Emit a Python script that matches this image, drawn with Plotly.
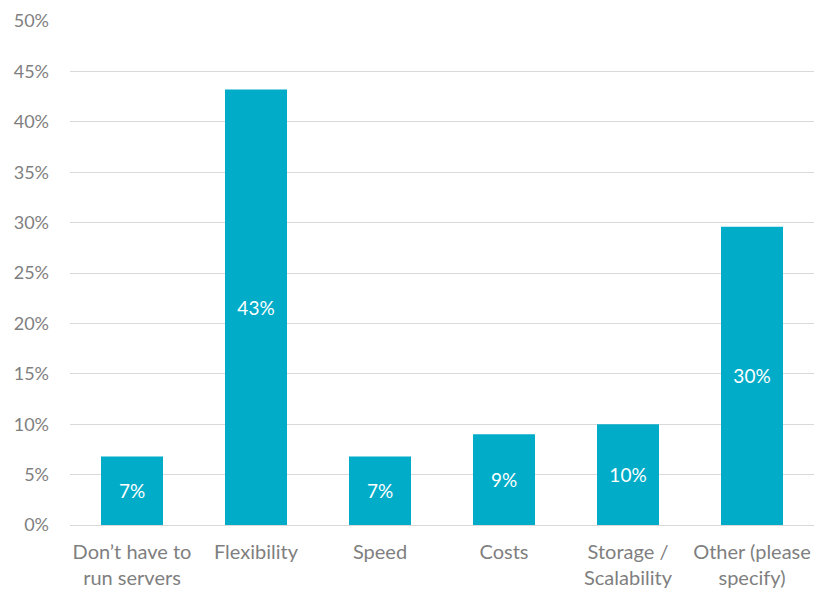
import plotly.graph_objects as go

# Survey responses: main reason for choosing the service
categories = [
    "Don’t have to<br>run servers",
    "Flexibility",
    "Speed",
    "Costs",
    "Storage /<br>Scalability",
    "Other (please<br>specify)",
]
shares = [0.068, 0.432, 0.068, 0.090, 0.100, 0.296]
y_ticks = [0, 0.05, 0.10, 0.15, 0.20, 0.25, 0.30, 0.35, 0.40, 0.45, 0.50]

bar_color = "#00ACC8"
text_gray = "#7F7F7F"
grid_gray = "#D9D9D9"
font_family = "Lato, 'Open Sans', sans-serif"

fig = go.Figure(
    go.Bar(
        x=categories,
        y=shares,
        marker=dict(color=bar_color, line=dict(width=0)),
        texttemplate="%{y:.0%}",
        textposition="inside",
        insidetextanchor="middle",
        textfont=dict(color="white", size=19, family=font_family),
        constraintext="none",
        hoverinfo="skip",
    )
)

fig.update_layout(
    width=814,
    height=591,
    margin=dict(l=70, r=0, t=21, b=66),
    paper_bgcolor="white",
    plot_bgcolor="white",
    bargap=0.5,
    showlegend=False,
    font=dict(family=font_family, color=text_gray, size=18),
)

fig.update_xaxes(
    showgrid=False,
    showline=False,
    ticks="",
    ticklabelstandoff=13,
    tickfont=dict(size=20, color=text_gray),
)

fig.update_yaxes(
    range=[0, 0.5],
    tickvals=y_ticks,
    tickformat=".0%",
    showgrid=True,
    gridcolor=grid_gray,
    gridwidth=1,
    zeroline=True,
    zerolinecolor=grid_gray,
    zerolinewidth=1,
    showline=False,
    ticks="",
    ticklabelstandoff=20,
    tickfont=dict(size=18, color=text_gray),
)

fig.write_html("out.html")
